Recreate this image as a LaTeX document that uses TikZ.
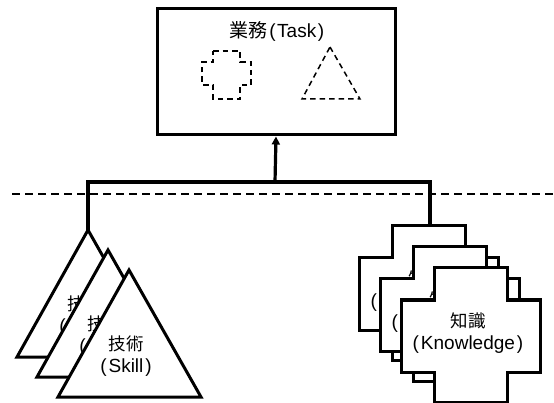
\documentclass[tikz,border=0pt]{standalone}
\usepackage{fontspec}
\setmainfont{Liberation Sans}
\newfontfamily\jp[Scale=0.92]{Noto Sans CJK JP}
\newfontfamily\jpt{Noto Sans CJK JP}
\newcommand\myL{(\hspace{2pt}}
\newcommand\myR{\hspace{2pt})}
\usetikzlibrary{arrows.meta}
\begin{document}
\begin{tikzpicture}[x=1pt,y=-1pt,
  shapeline/.style={draw=black,line width=3pt,fill=white,line join=miter},
  conn/.style={draw=black,line width=3.2pt},
  dashshape/.style={draw=black,line width=1.5pt,dash pattern=on 5.5pt off 4pt},
  divider/.style={draw=black,line width=1.3pt,dash pattern=on 8pt off 5pt},
  lbl/.style={font=\fontsize{19}{22}\selectfont,align=center,inner sep=0pt}]
\useasboundingbox (0,0) rectangle (554,403);
\fill[white] (0,0) rectangle (554,403);
% task box
\node[shapeline,minimum width=238pt,minimum height=126pt,inner sep=0pt] (task) at (276,72) {};
\node[lbl] (title) at (277,31) {{\jpt 業務}\hspace{1.5pt}(\hspace{1.5pt}Task\hspace{1.5pt})};
\draw[dashshape] (213,51) -- (240,51) -- (240,62) -- (251,62) -- (251,85) -- (240,85) -- (240,99) -- (213,99) -- (213,85) -- (202,85) -- (202,62) -- (213,62) -- cycle;
\draw[dashshape] (330,47) -- (360,99) -- (302,99) -- cycle;
% divider
\coordinate (dl) at (12,194);
\coordinate (dr) at (554,194);
\draw[divider] (dl) -- (dr);
% connector points
\coordinate (j) at (275,182);
\coordinate (t1) at (88,230);
\coordinate (k1) at (430,226);
\draw[conn,line join=miter] (t1) -- (t1 |- j) -- (k1 |- j) -- (k1);
\draw[conn,-{Triangle[length=8pt,width=8pt]}] (j) -- (task.south);
% triangles
\foreach \ax/\ay/\n in {88/230/1,108/250/2,129/270/3}{
  \begin{scope}[shift={(\ax,\ay)}]
    \draw[shapeline] (0,0) -- (72,127) -- (-71,127) -- cycle;
    \node[lbl] (skill\n) at (-3,86) {{\jp 技術}\\\myL Skill\myR};
  \end{scope}
}
% crosses
\foreach \lx/\ty/\n in {359/226/1,380/247/2,401/268/3}{
  \begin{scope}[shift={(\lx,\ty)}]
    \draw[shapeline] (33,0) -- (106,0) -- (106,32) -- (139,32) -- (139,104) -- (106,104) -- (106,134) -- (33,134) -- (33,104) -- (0,104) -- (0,32) -- (33,32) -- cycle;
    \node[lbl] (know\n) at (67,65) {{\jp 知識}\\\myL Knowledge\myR};
  \end{scope}
}
\end{tikzpicture}
\end{document}
